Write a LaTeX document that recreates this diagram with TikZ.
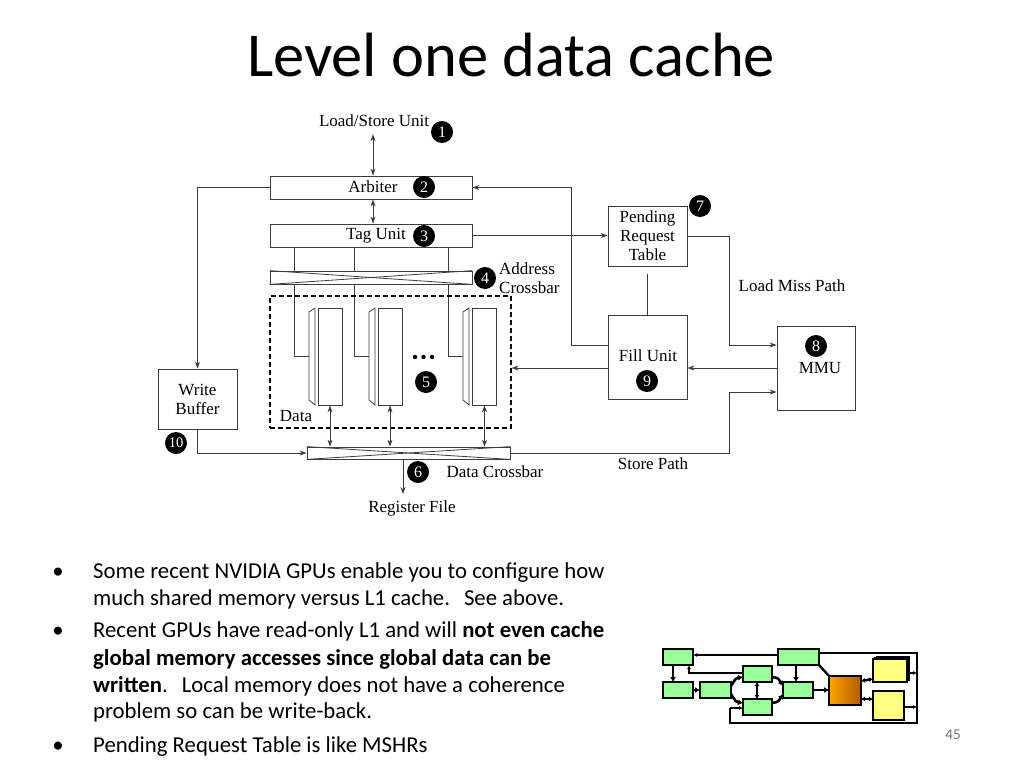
\documentclass[tikz,border=0pt]{standalone}
\usepackage{fontspec}
\setmainfont{Carlito}
\newfontfamily\dfont{Liberation Serif}
\usetikzlibrary{arrows.meta}
\definecolor{ln}{RGB}{60,60,60}
\definecolor{tgreen}{RGB}{153,255,153}
\definecolor{tyellow}{RGB}{255,255,128}
\newcommand{\numc}[3]{\fill[black] (#2) circle (11pt);\node[numt] (#1) at (#2) {#3};}
\begin{document}
\begin{tikzpicture}[x=1pt,y=-1pt,
  dtext/.style={font=\dfont\fontsize{17}{19}\selectfont, inner sep=0pt},
  blk/.style={draw=ln, line width=0.8pt, fill=white, inner sep=0pt, font=\dfont\fontsize{17}{19}\selectfont, align=center},
  numt/.style={text=white, inner sep=0pt, font=\dfont\fontsize{16}{16}\selectfont},
  arr/.style={draw=ln, line width=0.8pt, -{Stealth[length=7pt,width=5pt]}},
  darr/.style={draw=ln, line width=0.8pt, {Stealth[length=7pt,width=5pt]}-{Stealth[length=7pt,width=5pt]}},
  ln/.style={draw=ln, line width=0.8pt},
  tbox/.style={draw=black, line width=1.6pt},
  tarr/.style={draw=black, line width=1.4pt, -{Latex[length=4pt,width=4pt]}},
  tthick/.style={draw=black, line width=2.6pt, -{Latex[length=5pt,width=6pt]}},
  body/.style={anchor=base west, inner sep=0pt, font=\fontsize{22.75}{27}\selectfont}
]
\useasboundingbox (0,0) rectangle (1024,768);

% Title
\node[anchor=base, inner sep=0pt, font=\fontsize{62.5}{70}\selectfont] (title) at (511,77) {Level one data cache};

% ---------- Diagram ----------
\node[dtext] (ls) at (374,121) {Load/Store Unit};
\numc{n1}{442,132}{1}

\node[blk, minimum width=202, minimum height=23] (arb) at (371,187.5) {};
\node[dtext] (arbt) at (373,187) {Arbiter};
\numc{n2}{424,187}{2}

\node[blk, minimum width=202, minimum height=23] (tag) at (371,235.5) {};
\node[dtext] (tagt) at (376,236) {Tag Unit};
\numc{n3}{424,236}{3}

% lines from tag unit to muxes (drawn under crossbar)
\coordinate (m1) at (309.5,356);
\coordinate (m2) at (369.5,356);
\coordinate (m3) at (463.5,356);
\draw[ln] ([xshift=-77pt]tag.south) |- (m1);
\draw[ln] ([xshift=-17pt]tag.south) |- (m2);
\draw[ln] ([xshift=77pt]tag.south) |- (m3);

% address crossbar
\node[blk, minimum width=202, minimum height=13] (axb) at (371,277.5) {};
\draw[ln] (axb.north west) -- (axb.south east);
\draw[ln] (axb.south west) -- (axb.north east);
\numc{n4}{485,278}{4}
\node[dtext, anchor=west, align=left] (axbt) at (499,278) {Address\\Crossbar};

% data region
\node[draw=black, line width=1.1pt, dashed, dash pattern=on 5pt off 3pt, minimum width=241, minimum height=132, inner sep=0pt] (data) at (390.5,362) {};
\node[dtext] (datat) at (296,416) {Data};

% banks
\foreach \mx/\bx/\nm in {309/330/bank1, 369/390/bank2, 463/484.5/bank3}{
  \draw[ln, fill=white] (\mx,312) -- (\mx+6,308) -- (\mx+6,405) -- (\mx,400) -- cycle;
  \node[blk, minimum width=24, minimum height=97] (\nm) at (\bx,356.5) {};
}
\fill[black] (415,357) circle (2.2pt) (423.5,357) circle (2.2pt) (432,357) circle (2.2pt);
\numc{n5}{426,382}{5}

% data crossbar
\node[blk, minimum width=203, minimum height=12] (dxb) at (408.5,453) {};
\draw[ln] (dxb.north west) -- (dxb.south east);
\draw[ln] (dxb.south west) -- (dxb.north east);
\numc{n6}{418,472}{6}
\node[dtext] (dxbt) at (495,472) {Data Crossbar};

\foreach \b in {bank1,bank2,bank3}{
  \draw[darr] (\b.south) -- (\b.south |- dxb.north);
}

% register file
\node[dtext] (rf) at (412,508) {Register File};
\coordinate (rfin) at (403,494);
\draw[arr] (rfin |- dxb.south) -- (rfin);

% write buffer
\node[blk, minimum width=79, minimum height=60] (wb) at (197.5,399) {Write\\Buffer};
\numc{n10}{176,443}{\fontsize{14.5}{14.5}\selectfont 10}

% pending request table
\node[blk, minimum width=79, minimum height=60] (prt) at (647.5,236) {Pending\\Request\\Table};
\numc{n7}{700,206}{7}

% fill unit
\node[blk, minimum width=79, minimum height=84] (fill) at (647.5,357) {};
\node[dtext] (fillt) at (648,356) {Fill Unit};
\numc{n9}{647,381}{9}

% MMU
\node[blk, minimum width=78, minimum height=84] (mmu) at (816,368) {};
\node[dtext] (mmut) at (820,368) {MMU};
\numc{n8}{816,346}{8}

\node[dtext] (lmp) at (792,286) {Load Miss Path};
\node[dtext] (sp) at (653,464) {Store Path};

% connectors
\draw[darr, shorten <=7pt] (ls.south -| arbt.north) -- (arbt.north |- arb.north);
\draw[darr] (arbt.north |- arb.south) -- (arbt.north |- tag.north);
\draw[arr] (tag.east) -- (tag.east -| prt.west);
\draw[arr] (prt.east) -- ++(42,0) |- ([yshift=23pt]mmu.west);
\draw[arr] (dxb.east) -- ++(219,0) |- ([yshift=-24pt]mmu.west);
\draw[arr] (mmu.west) -- (mmu.west -| fill.east);
\draw[arr] (mmu.west -| fill.west) -- (mmu.west -| data.east);
\draw[arr] ([yshift=12pt]fill.west) -- ++(-36,0) |- (arb.east);
\draw[ln] ([yshift=-8pt]prt.south) -- (fill.north);
\draw[arr] (arb.west) -| (wb.north);
\draw[arr] (wb.south) |- (dxb.west);

% ---------- Bullets ----------
\foreach \y in {578,637,752}{
  \node[anchor=base, inner sep=0pt, font=\fontsize{22.75}{27}\selectfont] at (58,\y) {•};
}
\node[body] (b1) at (93,578) {Some recent NVIDIA GPUs enable you to configure how};
\node[body] (b2) at (93,605) {much shared memory versus L1 cache.\hspace{14pt}See above.};
\node[body] (b3) at (93,637) {Recent GPUs have read-only L1 and will \textbf{not even cache}};
\node[body] (b4) at (93,665) {\textbf{global memory accesses since global data can be}};
\node[body] (b5) at (93,692) {\textbf{written}.\hspace{14pt}Local memory does not have a coherence};
\node[body] (b6) at (93,718) {problem so can be write-back.};
\node[body] (b7) at (93,752) {Pending Request Table is like MSHRs};

\node[anchor=base, inner sep=0pt, text=black!55, font=\fontsize{15}{18}\selectfont] (pg) at (953,739) {45};

% ---------- Thumbnail ----------
\draw[line width=1.6pt] (819,653) -- (917,653) -- (917,723) -- (730,723) -- (730,708);
\draw[tarr] (730,708) -- (743,708);
\draw[tarr] (778,655) -- (693,655);
\draw[tarr] (743,673) -- (689,673) -- (689,665);
\draw[tthick] (673,665) -- (673,682);
\draw[tthick] (693,690) -- (700,690);
\draw[tthick] (796,665) -- (796,682);
\draw[tthick] (813,690) -- (829,690);
\draw[line width=2.4pt] (819,665) -- (829,676);
\draw[tthick] (731,686) .. controls (736,678) .. (743,677);
\draw[tthick] (731,694) .. controls (736,702) .. (743,703);
\draw[tthick] (772,677) .. controls (778,678) .. (783,686);
\draw[tthick] (772,703) .. controls (778,702) .. (783,694);
\draw[line width=2.4pt, {Latex[length=4pt,width=5pt]}-{Latex[length=4pt,width=5pt]}] (757,682) -- (757,699);
\draw[line width=2.4pt, {Latex[length=4pt,width=5pt]}-{Latex[length=4pt,width=5pt]}] (861,681) -- (873,679);
\draw[line width=2.4pt, {Latex[length=4pt,width=5pt]}-{Latex[length=4pt,width=5pt]}] (861,699) -- (873,699);
\draw[tarr] (907,673) -- (917,673);
\draw[tarr] (904,707) -- (917,707);
\draw[tbox, fill=tgreen] (663,649) rectangle (693,665);
\draw[tbox, fill=tgreen] (778,649) rectangle (819,665);
\draw[tbox, fill=tgreen] (743,666) rectangle (772,682);
\draw[tbox, fill=tgreen] (663,682) rectangle (693,698);
\draw[tbox, fill=tgreen] (700,682) rectangle (731,698);
\draw[tbox, fill=tgreen] (783,682) rectangle (813,698);
\draw[tbox, fill=tgreen] (743,699) rectangle (772,715);
\draw[tbox, left color=orange!70!yellow, right color=orange!70!black] (829,676) rectangle (861,705);
\fill[black] (876,656) rectangle (910,679);
\draw[tbox, fill=black!70] (875,657.5) rectangle (909,680.5);
\draw[tbox, fill=tyellow] (873,659) rectangle (907,682);
\draw[tbox, fill=tyellow] (873,691) rectangle (904,720);
\end{tikzpicture}
\end{document}
